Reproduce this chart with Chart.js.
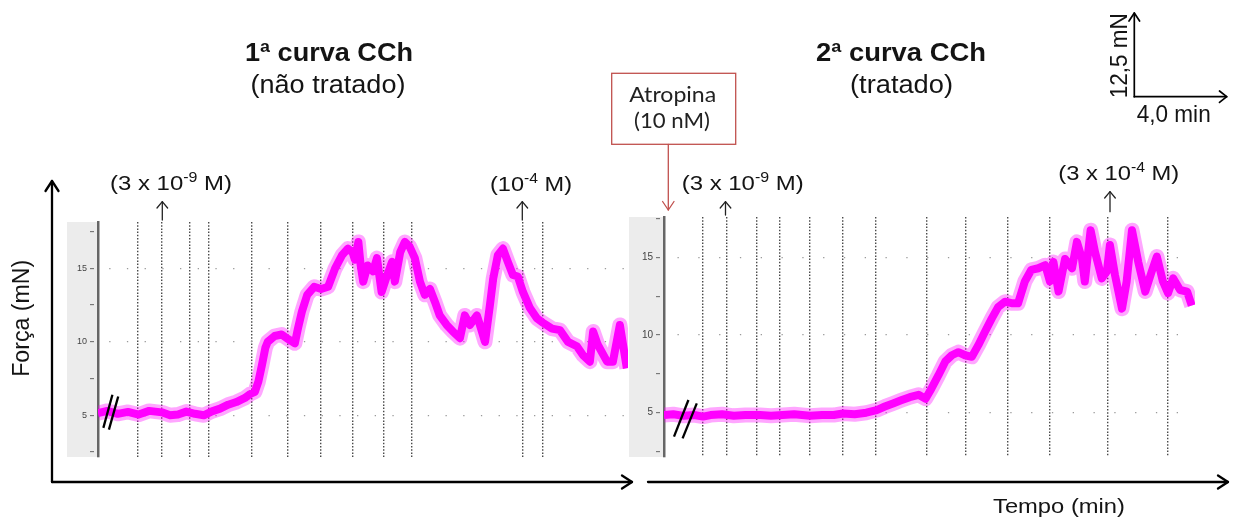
<!DOCTYPE html>
<html lang="pt">
<head>
<meta charset="utf-8">
<title>Curvas CCh</title>
<script src="https://cdn.jsdelivr.net/npm/chart.js@4.4.1/dist/chart.umd.min.js"></script>
<style>
  html, body { margin: 0; padding: 0; background: #fff; }
  #stage { position: relative; width: 1233px; height: 522px; overflow: hidden; }
  .panel { position: absolute; }
  #overlay { position: absolute; left: 0; top: 0; pointer-events: none; }
</style>
</head>
<body>
<div id="stage">
  <div class="panel" style="left:67px; top:212px; width:571px; height:255px;"><canvas id="curve1"></canvas></div>
  <div class="panel" style="left:629px; top:207px; width:576px; height:260px;"><canvas id="curve2"></canvas></div>

  <svg id="overlay" width="1233" height="522" viewBox="0 0 1233 522"
       font-family="'Liberation Sans', Arial, sans-serif" fill="#141414">
    <!-- eixos gerais -->
    <g stroke="#000" stroke-width="2.3" fill="none" stroke-linecap="round" stroke-linejoin="round">
      <line x1="52" y1="482" x2="52" y2="181"/>
      <polyline points="45.5,191 52,181 58.5,191"/>
      <line x1="52" y1="482" x2="632" y2="482"/>
      <polyline points="622,475.5 632,482 622,488.5"/>
      <line x1="648" y1="482" x2="1228" y2="482"/>
      <polyline points="1218,475.5 1228,482 1218,488.5"/>
    </g>

    <!-- barra de escala -->
    <g stroke="#000" stroke-width="1.7" fill="none" stroke-linecap="round" stroke-linejoin="round">
      <line x1="1134.3" y1="96.7" x2="1134.3" y2="13"/>
      <polyline points="1129,21 1134.3,13 1139.6,21"/>
      <line x1="1134.3" y1="96.7" x2="1226.7" y2="96.7"/>
      <polyline points="1219.5,91 1226.7,96.7 1219.5,102.4"/>
    </g>
    <text transform="translate(1127 55.8) rotate(-90)" text-anchor="middle" font-size="24"
          textLength="85" lengthAdjust="spacingAndGlyphs">12,5 mN</text>
    <text x="1136.7" y="122" font-size="24" textLength="74" lengthAdjust="spacingAndGlyphs">4,0 min</text>

    <!-- marcadores de adição -->
    <g stroke="#222" stroke-width="1.3" fill="none" stroke-linecap="round" stroke-linejoin="round">
      <line x1="162.3" y1="220" x2="162.3" y2="201.7"/>
      <polyline points="157,208 162.3,201.7 167.6,208"/>
      <line x1="522.3" y1="220" x2="522.3" y2="201.7"/>
      <polyline points="517,208 522.3,201.7 527.6,208"/>
      <line x1="725.5" y1="215" x2="725.5" y2="201.7"/>
      <polyline points="720.2,208 725.5,201.7 730.8,208"/>
      <line x1="1110" y1="211.7" x2="1110" y2="191.7"/>
      <polyline points="1104.7,198 1110,191.7 1115.3,198"/>
    </g>
    <text x="110" y="190" font-size="21" textLength="122" lengthAdjust="spacingAndGlyphs">(3 x 10<tspan dy="-8" font-size="14">-9</tspan><tspan dy="8"> M)</tspan></text>
    <text x="490" y="191" font-size="21" textLength="82" lengthAdjust="spacingAndGlyphs">(10<tspan dy="-8" font-size="14">-4</tspan><tspan dy="8"> M)</tspan></text>
    <text x="681.7" y="190" font-size="21" textLength="122" lengthAdjust="spacingAndGlyphs">(3 x 10<tspan dy="-8" font-size="14">-9</tspan><tspan dy="8"> M)</tspan></text>
    <text x="1058.3" y="180" font-size="21" textLength="121" lengthAdjust="spacingAndGlyphs">(3 x 10<tspan dy="-8" font-size="14">-4</tspan><tspan dy="8"> M)</tspan></text>

    <!-- atropina -->
    <rect x="611.7" y="73.3" width="124" height="71" fill="none" stroke="#c0504d" stroke-width="1.3"/>
    <g stroke="#c0504d" stroke-width="1.3" fill="none" stroke-linecap="round" stroke-linejoin="round">
      <line x1="668.3" y1="144.3" x2="668.3" y2="210"/>
      <polyline points="662.6,201.5 668.3,210 674,201.5"/>
    </g>
    <g font-family="Lato, 'Open Sans', sans-serif" font-size="21" fill="#222" text-anchor="middle">
      <text x="672.7" y="102.3" textLength="87" lengthAdjust="spacingAndGlyphs">Atropina</text>
      <text x="672" y="128.3" textLength="76" lengthAdjust="spacingAndGlyphs">(10 nM)</text>
    </g>

    <!-- títulos -->
    <text x="245" y="61" font-size="25" font-weight="bold" textLength="168" lengthAdjust="spacingAndGlyphs">1ª curva CCh</text>
    <text x="250.5" y="93" font-size="26" textLength="155" lengthAdjust="spacingAndGlyphs">(não tratado)</text>
    <text x="816" y="61" font-size="25" font-weight="bold" textLength="170" lengthAdjust="spacingAndGlyphs">2ª curva CCh</text>
    <text x="850" y="93" font-size="26" textLength="103" lengthAdjust="spacingAndGlyphs">(tratado)</text>

    <!-- rótulos dos eixos -->
    <text transform="translate(28.5 318.3) rotate(-90)" text-anchor="middle" font-size="23"
          textLength="117" lengthAdjust="spacingAndGlyphs">Força (mN)</text>
    <text x="993" y="513" font-size="21" textLength="132" lengthAdjust="spacingAndGlyphs">Tempo (min)</text>
  </svg>
</div>

<script>
// 1ª curva (não tratado): tempo (min) e força (mN)
const leftTime = [
  0.00, 0.40, 0.85, 1.29, 1.75, 2.20, 2.75, 3.10, 3.44, 3.80,
  4.17, 4.55, 4.90, 5.25, 5.60, 5.95, 6.32, 6.55, 6.75, 6.90,
  7.05, 7.20, 7.30, 7.60, 7.90, 8.17, 8.47, 8.60, 8.77, 9.00,
  9.30, 9.60, 9.90, 10.20, 10.50, 10.75, 10.95, 11.05, 11.20, 11.30,
  11.41, 11.60, 11.83, 12.00, 12.20, 12.43, 12.65, 12.77, 13.00, 13.20,
  13.40, 13.63, 13.85, 14.06, 14.28, 14.50, 14.70, 15.00, 15.27, 15.57,
  15.78, 16.00, 16.30, 16.43, 16.65, 16.86, 17.00, 17.20, 17.42, 17.63,
  17.85, 18.06, 18.28, 18.58, 18.88, 19.14, 19.53, 19.87, 20.22, 20.60,
  20.86, 21.16, 21.30, 21.50, 21.90, 22.15, 22.45, 22.75
];
const leftForce = [
  5.15, 5.30, 5.10, 5.23, 5.05, 5.30, 5.20, 5.00, 5.05, 5.25,
  5.10, 5.00, 5.27, 5.45, 5.72, 5.90, 6.18, 6.45, 6.60, 7.30,
  8.40, 9.60, 10.00, 10.40, 10.50, 10.20, 9.90, 10.90, 12.05, 13.20,
  13.75, 13.60, 13.75, 15.00, 15.90, 16.35, 16.10, 15.60, 16.80, 15.20,
  14.10, 15.20, 14.80, 15.70, 13.40, 14.50, 15.45, 14.10, 16.10, 16.80,
  16.50, 15.70, 14.10, 13.20, 13.60, 12.70, 11.80, 11.15, 10.70, 10.25,
  11.80, 11.15, 11.80, 11.15, 10.00, 12.50, 14.30, 15.90, 16.35, 15.45,
  14.55, 14.45, 13.40, 12.30, 11.60, 11.30, 10.90, 10.80, 10.00, 9.70,
  9.10, 8.65, 10.70, 9.80, 8.65, 8.65, 11.15, 8.20
];

// 2ª curva (tratado com atropina)
const rightTime = [
  0.00, 0.40, 0.85, 1.30, 1.68, 2.00, 2.50, 3.00, 3.50, 4.13,
  4.60, 5.10, 5.60, 6.28, 6.80, 7.30, 7.70, 8.20, 8.70, 9.15,
  9.50, 9.85, 10.20, 10.57, 10.95, 11.25, 11.50, 11.80, 12.10, 12.38,
  12.66, 12.95, 13.24, 13.52, 13.80, 14.10, 14.37, 14.67, 14.95, 15.23,
  15.52, 15.80, 16.10, 16.40, 16.60, 16.75, 16.97, 17.25, 17.55, 17.76,
  17.98, 18.10, 18.35, 18.54, 18.83, 19.05, 19.18, 19.40, 19.70, 19.90,
  20.13, 20.40, 20.70, 20.98, 21.20, 21.46, 21.68, 21.90, 22.20, 22.50,
  22.70
];
const rightForce = [
  4.85, 4.90, 4.80, 4.85, 4.75, 4.85, 4.90, 4.80, 4.85, 4.85,
  4.80, 4.85, 4.90, 4.80, 4.85, 4.85, 4.95, 4.90, 5.00, 5.17,
  5.40, 5.60, 5.80, 6.00, 6.15, 5.90, 6.55, 7.40, 8.30, 8.70,
  8.90, 8.70, 8.60, 9.35, 10.20, 11.07, 11.80, 12.15, 12.05, 12.05,
  13.45, 14.20, 14.30, 14.50, 13.45, 14.70, 12.80, 14.90, 14.30, 16.00,
  14.90, 13.45, 16.75, 15.35, 13.65, 14.10, 15.80, 13.85, 11.70, 13.45,
  16.75, 14.70, 12.80, 14.10, 15.05, 13.45, 12.70, 13.65, 12.90, 12.80,
  11.90
];

// adições de CCh (linhas pontilhadas verticais), em min
const leftEvents = [1.72, 2.75, 3.96, 4.77, 6.62, 8.17, 9.59, 10.97, 12.30, 13.51, 18.28, 19.14];
const rightEvents = [1.68, 2.71, 4.00, 4.99, 6.28, 7.70, 9.12, 11.31, 12.99, 14.80, 16.60, 19.10, 21.68];

// marca cinza "x" sobre o traçado da 1ª curva
const leftCross = [{ x: 17.0, y: 14.32 }];

// quebras "//" no início de cada registro: [t1, f1, t2, f2]
const leftBreaks = [[0.23, 4.14, 0.62, 6.40], [0.47, 4.02, 0.87, 6.28]];
const rightBreaks = [[0.43, 3.46, 1.05, 5.82], [0.80, 3.35, 1.41, 5.60]];

const FONT = "'Liberation Sans', Arial, sans-serif";

function toPoints(times, values) {
  return times.map((t, i) => ({ x: t, y: values[i] }));
}

// faixa cinza do eixo y e quebras do registro
const panelDecor = {
  id: 'panelDecor',
  beforeDraw(chart) {
    const { ctx, chartArea, scales } = chart;
    const y = scales.y;
    ctx.save();
    ctx.fillStyle = '#ececec';
    ctx.fillRect(y.left, chartArea.top, chartArea.left - y.left, chartArea.bottom - chartArea.top);
    ctx.restore();
  },
  afterDatasetsDraw(chart, args, opts) {
    const { ctx, scales: { x, y } } = chart;
    ctx.save();
    ctx.strokeStyle = '#000';
    ctx.lineWidth = 2.3;
    (opts.breaks || []).forEach(([t1, f1, t2, f2]) => {
      ctx.beginPath();
      ctx.moveTo(x.getPixelForValue(t1), y.getPixelForValue(f1));
      ctx.lineTo(x.getPixelForValue(t2), y.getPixelForValue(f2));
      ctx.stroke();
    });
    ctx.restore();
  }
};

function renderPanel(canvas, cfg) {
  const points = toPoints(cfg.time, cfg.force);
  const trace = {
    data: points,
    pointRadius: 0,
    tension: 0,
    borderJoinStyle: 'round'
  };
  const datasets = [
    // halo claro em volta do sinal (ruído do registro)
    Object.assign({}, trace, { borderColor: 'rgba(255, 0, 255, 0.35)', borderWidth: 15 }),
    Object.assign({}, trace, { borderColor: '#ff00ff', borderWidth: 8 })
  ];
  if (cfg.cross) {
    datasets.push({
      type: 'scatter',
      data: cfg.cross,
      pointStyle: 'crossRot',
      pointRadius: 4.5,
      borderColor: '#808080',
      borderWidth: 1.3
    });
  }

  return new Chart(canvas.getContext('2d'), {
    type: 'line',
    data: { datasets: datasets },
    options: {
      responsive: true,
      maintainAspectRatio: false,
      animation: false,
      layout: { padding: { top: 10, right: 10, bottom: 10, left: 0 } },
      plugins: {
        legend: { display: false },
        tooltip: { enabled: false },
        panelDecor: { breaks: cfg.breaks }
      },
      scales: {
        x: {
          type: 'linear',
          min: 0,
          max: cfg.tMax,
          z: 1,
          afterBuildTicks: scale => { scale.ticks = cfg.events.map(v => ({ value: v })); },
          afterFit: scale => { scale.height = 0; },
          ticks: { display: false },
          grid: { color: '#4a4a4a', lineWidth: 1.4, drawTicks: false },
          border: { display: false, dash: [1.5, 1.7] }
        },
        y: {
          min: cfg.yMin,
          max: cfg.yMax,
          afterFit: scale => { scale.width = cfg.axisWidth; },
          ticks: {
            stepSize: 2.5,
            includeBounds: false,
            padding: 3,
            color: '#444',
            font: { family: FONT, size: cfg.tickSize },
            callback: v => (v % 5 === 0 ? String(v) : '')
          },
          grid: {
            color: ctx => (ctx.tick && ctx.tick.value % 5 === 0 ? '#9a9a9a' : 'rgba(0,0,0,0)'),
            lineWidth: 1.3,
            tickLength: 8,
            tickColor: '#666',
            tickWidth: 1,
            tickBorderDash: [4, 10]
          },
          border: { display: true, color: '#666', width: 2.5, dash: [1.3, cfg.dotGap], dashOffset: cfg.dotOffset }
        }
      }
    },
    plugins: [panelDecor]
  });
}

renderPanel(document.getElementById('curve1'), {
  time: leftTime,
  force: leftForce,
  events: leftEvents,
  breaks: leftBreaks,
  cross: leftCross,
  tMax: 22.8,
  yMin: 2.16,
  yMax: 18.16,
  axisWidth: 31,
  tickSize: 9,
  dotGap: 16.4,
  dotOffset: 8
});

renderPanel(document.getElementById('curve2'), {
  time: rightTime,
  force: rightForce,
  events: rightEvents,
  breaks: rightBreaks,
  tMax: 22.84,
  yMin: 2.15,
  yMax: 17.6,
  axisWidth: 35,
  tickSize: 10,
  dotGap: 19.5,
  dotOffset: 8.8
});
</script>
</body>
</html>
